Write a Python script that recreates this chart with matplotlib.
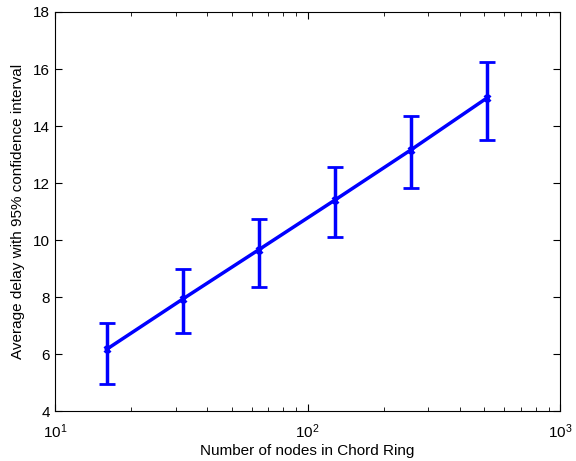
import matplotlib
matplotlib.use("Agg")
import matplotlib.pyplot as plt
from matplotlib.ticker import LogLocator, NullFormatter

plt.rcParams['font.family'] = ['Liberation Sans', 'DejaVu Sans']

nodes = [16, 32, 64, 128, 256, 512]
delay = [6.17, 7.93, 9.66, 11.40, 13.16, 14.98]
upper = [7.10, 8.98, 10.74, 12.56, 14.36, 16.25]
lower = [4.96, 6.75, 8.35, 10.12, 11.83, 13.50]

err_lo = [d - l for d, l in zip(delay, lower)]
err_hi = [u - d for u, d in zip(upper, delay)]

fig = plt.figure(figsize=(5.76, 4.61), dpi=100)
ax = fig.add_axes([0.0955, 0.108, 0.877, 0.866])
ax.errorbar(nodes, delay, yerr=[err_lo, err_hi], color='#0000ff', lw=2.5,
            elinewidth=2.5, capsize=6, capthick=2.5, marker='x', ms=5, mew=2)
ax.set_xscale('log')
ax.set_xlim(10, 1000)
ax.set_ylim(4, 18)
ax.set_yticks(range(4, 19, 2))
ax.xaxis.set_minor_locator(LogLocator(base=10, subs=range(2, 10)))
ax.xaxis.set_minor_formatter(NullFormatter())
ax.tick_params(which='both', direction='in', top=True, right=True, labelsize=11)
ax.tick_params(which='major', length=5)
ax.tick_params(which='minor', length=3)
ax.tick_params(axis='x', which='major', pad=8)
for s in ax.spines.values():
    s.set_linewidth(0.8)
ax.set_xlabel('Number of nodes in Chord Ring', fontsize=11, labelpad=2)
ax.set_ylabel('Average delay with 95% confidence interval', fontsize=11, labelpad=6)
fig.savefig('out.png', dpi=100)
